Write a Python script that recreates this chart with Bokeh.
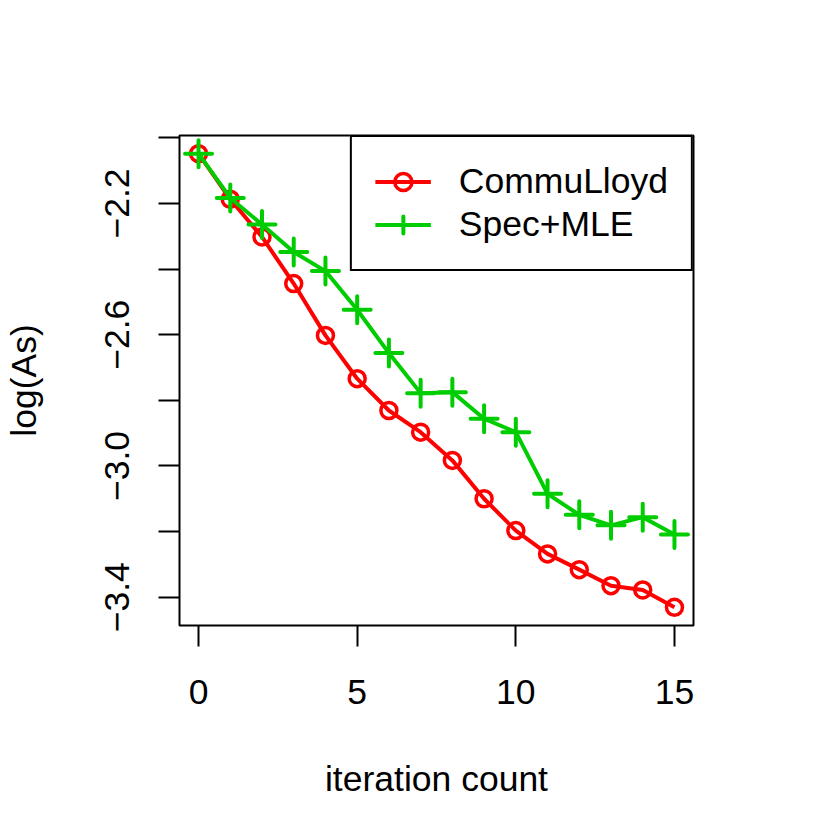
from bokeh.plotting import figure
from bokeh.models import Range1d, FixedTicker, Legend, LegendItem
from bokeh.embed import file_html
from bokeh.resources import INLINE

# ---- data ----
iterations = [0, 1, 2, 3, 4, 5, 6, 7, 8, 9, 10, 11, 12, 13, 14, 15]
commu_lloyd = [-2.048, -2.187, -2.302, -2.444, -2.602, -2.734, -2.831, -2.897,
               -2.983, -3.100, -3.197, -3.268, -3.316, -3.365, -3.378, -3.431]
spec_mle = [-2.048, -2.183, -2.264, -2.348, -2.406, -2.524, -2.656, -2.778,
            -2.775, -2.856, -2.897, -3.085, -3.149, -3.181, -3.156, -3.209]
series_names = ["CommuLloyd", "Spec+MLE"]
x_ticks = [0, 5, 10, 15]
y_ticks = [-2.0, -2.2, -2.4, -2.6, -2.8, -3.0, -3.2, -3.4]
y_tick_labels = ["", "\u22122.2", "", "\u22122.6", "", "\u22123.0", "", "\u22123.4"]

RED = "#FF0000"
GREEN = "#00CD00"
FONT = "Liberation Sans"
FS = "35.5px"

# R-style 4% range extension
xlo, xhi = min(iterations), max(iterations)
xpad = 0.04 * (xhi - xlo)
allv = commu_lloyd + spec_mle
ylo, yhi = min(allv), max(allv)
ypad = 0.04 * (yhi - ylo)

p = figure(width=822, height=822, output_backend="svg", toolbar_location=None,
           x_range=Range1d(xlo - xpad, xhi + xpad),
           y_range=Range1d(ylo - ypad, yhi + ypad),
           min_border_left=179, min_border_right=129,
           min_border_top=135, min_border_bottom=197)

p.background_fill_color = "white"
p.border_fill_color = "white"
p.outline_line_color = "black"
p.outline_line_width = 2
p.outline_line_alpha = 1.0
p.grid.visible = False

# axes
p.xaxis.ticker = FixedTicker(ticks=x_ticks)
p.yaxis.ticker = FixedTicker(ticks=y_ticks)
p.yaxis.major_label_overrides = {t: l for t, l in zip(y_ticks, y_tick_labels)}
for ax in (p.xaxis[0], p.yaxis[0]):
    ax.axis_line_color = None
    ax.major_tick_out = 21
    ax.major_tick_in = 0
    ax.major_tick_line_width = 2
    ax.major_tick_line_color = "black"
    ax.minor_tick_line_color = None
    ax.major_label_text_font = FONT
    ax.major_label_text_font_size = FS
    ax.major_label_text_color = "black"
    ax.axis_label_text_font = FONT
    ax.axis_label_text_font_size = FS
    ax.axis_label_text_font_style = "normal"
    ax.axis_label_text_color = "black"

p.xaxis.axis_label = "iteration count"
p.yaxis.axis_label = "log(As)"
p.xaxis.major_label_standoff = 33
p.xaxis.axis_label_standoff = 52
p.yaxis.major_label_orientation = "vertical"
p.yaxis.major_label_standoff = 29
p.yaxis.axis_label_standoff = 59

# series
r1l = p.line(iterations, commu_lloyd, line_color=RED, line_width=4, line_join="round")
r1m = p.scatter(iterations, commu_lloyd, marker="circle", size=16, line_color=RED,
                line_width=3.5, fill_color=None)
r2l = p.line(iterations, spec_mle, line_color=GREEN, line_width=4, line_join="round")
r2m = p.scatter(iterations, spec_mle, marker="cross", size=27, line_color=GREEN,
                line_width=4, line_cap="round")

legend = Legend(items=[LegendItem(label=series_names[0], renderers=[r1l, r1m]),
                       LegendItem(label=series_names[1], renderers=[r2l, r2m])],
                location="top_right", margin=0, padding=23, spacing=0,
                glyph_width=56, glyph_height=43, label_height=43, label_width=200,
                label_standoff=28,
                label_text_font=FONT, label_text_font_size=FS, label_text_color="black",
                border_line_color="black", border_line_width=2, border_line_alpha=1.0,
                background_fill_color="white", background_fill_alpha=1.0)
p.add_layout(legend)

open("out.html", "w").write(file_html(p, INLINE))
